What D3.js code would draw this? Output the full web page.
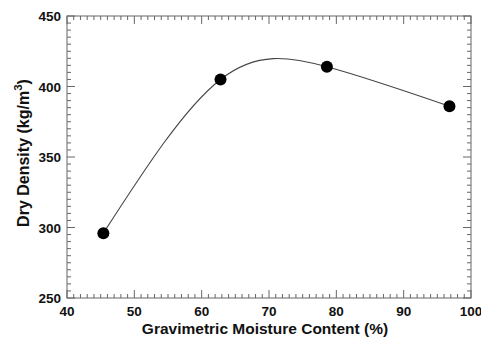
<!DOCTYPE html>
<html>
<head>
<meta charset="utf-8">
<script src="https://cdn.jsdelivr.net/npm/d3@7"></script>
<style>
  body { margin: 0; background: #fff; }
  svg { display: block; font-family: "Liberation Sans", Arial, sans-serif; }
</style>
</head>
<body>
<div id="chart"></div>
<script>
// data
const moisture = [45.4, 62.8, 78.6, 96.8];
const density = [296, 405, 414, 386];
const xTicks = [40, 50, 60, 70, 80, 90, 100];
const yTicks = [250, 300, 350, 400, 450];

const width = 481, height = 342;
const margin = { top: 16, right: 10, bottom: 44, left: 67 };

const svg = d3.select('#chart')
  .append('svg')
  .attr('width', width)
  .attr('height', height);

const x = d3.scaleLinear().domain([40, 100]).range([margin.left, width - margin.right]);
const y = d3.scaleLinear().domain([250, 450]).range([height - margin.bottom, margin.top]);

const x0 = x.range()[0], x1 = x.range()[1];
const y0 = y.range()[0], y1 = y.range()[1];

const xMinor = d3.range(40, 100.1, 1).filter(v => xTicks.indexOf(v) < 0);
const yMinor = d3.range(250, 450.1, 5).filter(v => yTicks.indexOf(v) < 0);

const tickColor = '#666';

// frame
svg.append('rect')
  .attr('x', x0).attr('y', y1)
  .attr('width', x1 - x0).attr('height', y0 - y1)
  .attr('fill', 'none')
  .attr('stroke', tickColor)
  .attr('stroke-width', 1);

// ticks, all inward on four sides
function xTickMarks(vals, len) {
  vals.forEach(function (v) {
    svg.append('line').attr('x1', x(v)).attr('x2', x(v)).attr('y1', y0).attr('y2', y0 - len)
      .attr('stroke', tickColor);
    svg.append('line').attr('x1', x(v)).attr('x2', x(v)).attr('y1', y1).attr('y2', y1 + len)
      .attr('stroke', tickColor);
  });
}
function yTickMarks(vals, len) {
  vals.forEach(function (v) {
    svg.append('line').attr('y1', y(v)).attr('y2', y(v)).attr('x1', x0).attr('x2', x0 + len)
      .attr('stroke', tickColor);
    svg.append('line').attr('y1', y(v)).attr('y2', y(v)).attr('x1', x1).attr('x2', x1 - len)
      .attr('stroke', tickColor);
  });
}
xTickMarks(xTicks, 8);
xTickMarks(xMinor, 4);
yTickMarks(yTicks, 8);
yTickMarks(yMinor, 4);

// tick labels
svg.selectAll('.xlab')
  .data(xTicks)
  .enter().append('text')
  .attr('x', d => x(d))
  .attr('y', y0 + 18)
  .attr('text-anchor', 'middle')
  .attr('font-size', 13.5)
  .attr('font-weight', 'bold')
  .attr('fill', '#111')
  .text(d => d);

svg.selectAll('.ylab')
  .data(yTicks)
  .enter().append('text')
  .attr('x', x0 - 6)
  .attr('y', d => y(d) + 5)
  .attr('text-anchor', 'end')
  .attr('font-size', 13.5)
  .attr('font-weight', 'bold')
  .attr('fill', '#111')
  .text(d => d);

// axis titles
svg.append('text')
  .attr('x', 265)
  .attr('y', 334)
  .attr('text-anchor', 'middle')
  .attr('font-size', 15.5)
  .attr('font-weight', 'bold')
  .attr('fill', '#111')
  .text('Gravimetric Moisture Content (%)');

const yTitle = svg.append('text')
  .attr('transform', 'translate(29,153) rotate(-90)')
  .attr('text-anchor', 'middle')
  .attr('font-size', 16)
  .attr('font-weight', 'bold')
  .attr('fill', '#111');
yTitle.append('tspan').text('Dry Density (kg/m');
yTitle.append('tspan').attr('dy', -7).attr('font-size', 11.5).text('3');
yTitle.append('tspan').attr('dy', 7).text(')');

// fitted curve
const pts = moisture.map((m, i) => [m, density[i]]);
const line = d3.line()
  .x(d => x(d[0]))
  .y(d => y(d[1]))
  .curve(d3.curveNatural);

svg.append('path')
  .datum(pts)
  .attr('d', line)
  .attr('fill', 'none')
  .attr('stroke', '#444')
  .attr('stroke-width', 1.1);

svg.selectAll('.pt')
  .data(pts)
  .enter().append('circle')
  .attr('cx', d => x(d[0]))
  .attr('cy', d => y(d[1]))
  .attr('r', 6)
  .attr('fill', '#000');
</script>
</body>
</html>
